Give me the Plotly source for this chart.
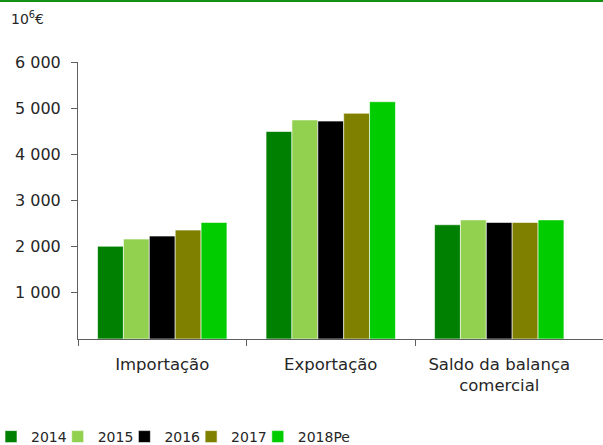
import plotly.graph_objects as go

categories = ["Importação", "Exportação", "Saldo da balança<br>comercial"]
series_names = ["2014", "2015", "2016", "2017", "2018Pe"]
values_2014 = [2010, 4495, 2475]
values_2015 = [2165, 4745, 2580]
values_2016 = [2230, 4720, 2525]
values_2017 = [2360, 4890, 2525]
values_2018 = [2525, 5140, 2580]
series_colors = ["#008000", "#92D050", "#000000", "#808000", "#00CC00"]
ytick_values = [1000, 2000, 3000, 4000, 5000, 6000]
ytick_labels = ["1 000", "2 000", "3 000", "4 000", "5 000", "6 000"]
boundary_ticks = [-0.5, 0.5, 1.5]

W, H = 603, 445
ML, MR, MT, MB = 78, 0, 62, 106
PW, PH = W - ML - MR, H - MT - MB
x_hi = -0.5 + PW / 168.5

FONT = "DejaVu Sans"
TXT = "#262626"
AX = "#5f5f5f"

fig = go.Figure()
xpos = list(range(len(categories)))
all_values = [values_2014, values_2015, values_2016, values_2017, values_2018]
legend_layouts = {}
for i, (name, vals, col) in enumerate(zip(series_names, all_values, series_colors)):
    lg = "legend" if i == 0 else f"legend{i + 1}"
    fig.add_trace(go.Bar(x=xpos, y=vals, name=name, legend=lg,
                         marker=dict(color=col, line=dict(color="#ffffff", width=0.6))))
    px_left = -9 + i * 66.7
    legend_layouts[lg] = dict(orientation="h", xref="paper", yref="paper",
                              x=(px_left - ML) / PW, y=-(437 - (MT + PH)) / PH,
                              xanchor="left", yanchor="middle",
                              font=dict(size=14, color=TXT, family=FONT),
                              itemclick=False, bgcolor="rgba(0,0,0,0)")

fig.update_layout(
    width=W, height=H,
    margin=dict(l=ML, r=MR, t=MT, b=MB, autoexpand=False),
    paper_bgcolor="white", plot_bgcolor="white",
    barmode="group", bargap=0.232, bargroupgap=0,
    font=dict(family=FONT, color=TXT),
    xaxis=dict(range=[-0.5, x_hi], tickmode="array", tickvals=xpos, ticktext=categories,
               ticks="", showline=True, linecolor=AX, linewidth=1, showgrid=False,
               zeroline=False, tickfont=dict(size=16.5, color=TXT, family=FONT),
               ticklabelstandoff=10, automargin=False,
               minor=dict(tickmode="array", tickvals=boundary_ticks, ticks="outside",
                          ticklen=6, tickcolor=AX, tickwidth=1, showgrid=False)),
    yaxis=dict(range=[0, 6000], tickmode="array", tickvals=ytick_values, ticktext=ytick_labels,
               ticks="outside", ticklen=6, tickcolor=AX, tickwidth=1,
               showline=True, linecolor=AX, linewidth=1, showgrid=False, zeroline=False,
               tickfont=dict(size=16, color=TXT, family=FONT), ticklabelstandoff=7,
               automargin=False),
    showlegend=True,
    **legend_layouts,
)

fig.add_annotation(text="10<sup>6</sup>€", xref="paper", yref="paper",
                   x=(9 - ML) / PW, y=1 + (MT - 18) / PH, xanchor="left", yanchor="middle",
                   showarrow=False, font=dict(size=14, color=TXT, family=FONT))

fig.add_shape(type="line", xref="paper", yref="paper",
              x0=-ML / PW, x1=1 + MR / PW, y0=1 + (MT - 1) / PH, y1=1 + (MT - 1) / PH,
              line=dict(color="#149014", width=2))

fig.write_html("out.html", config={"displayModeBar": False},
               post_script="document.body.style.margin='0';document.body.style.overflow='hidden';")
